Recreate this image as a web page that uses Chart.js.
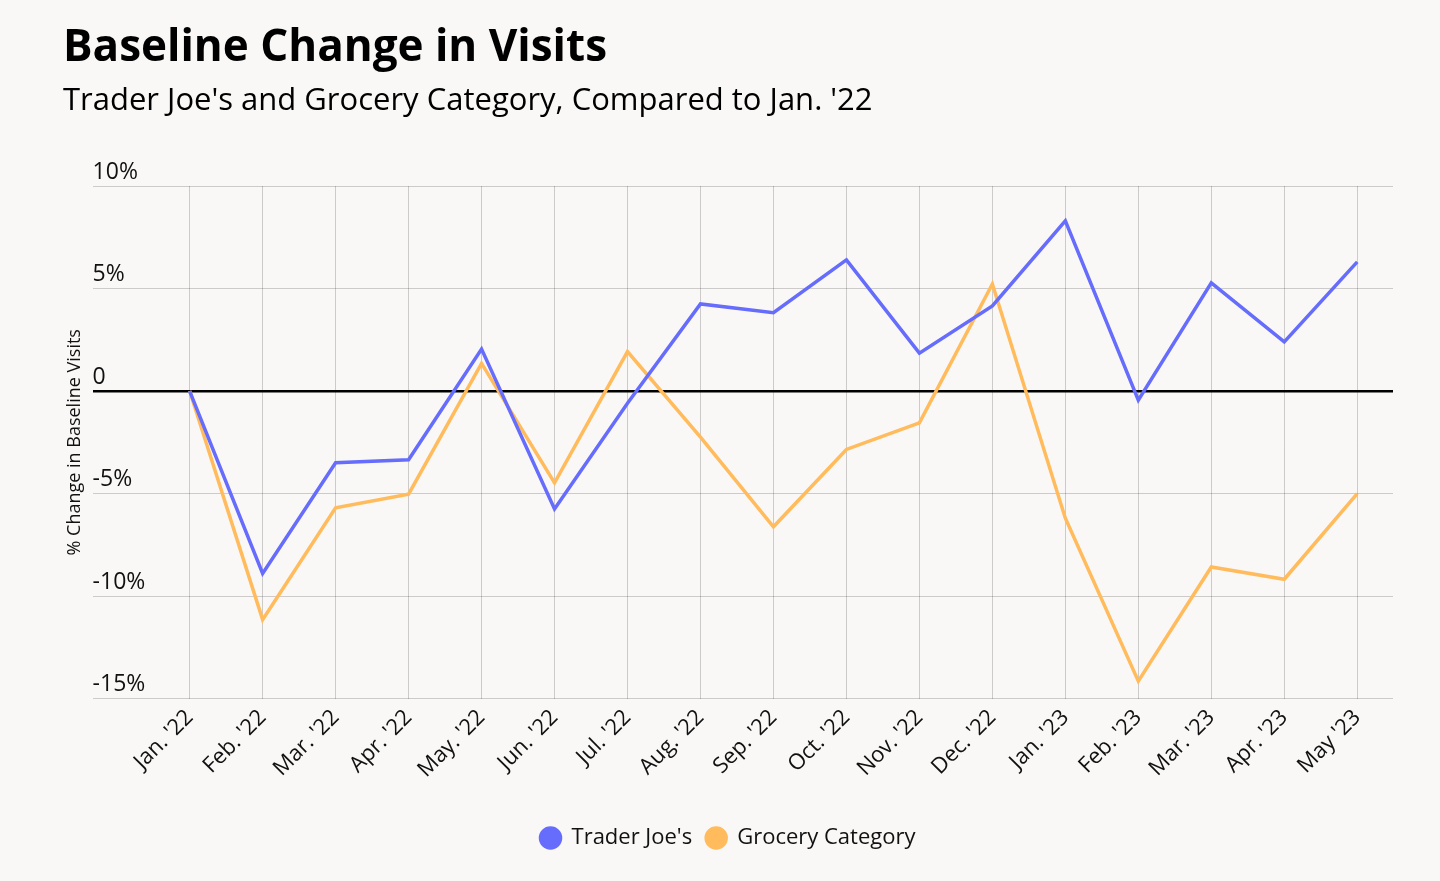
<!DOCTYPE html>
<html>
<head>
<meta charset="utf-8">
<script src="https://cdn.jsdelivr.net/npm/chart.js@4"></script>
<style>
  html, body { margin: 0; padding: 0; background: #f9f8f6; }
  #wrap { width: 1440px; height: 881px; }
</style>
</head>
<body>
<div id="wrap"><canvas id="chart"></canvas></div>
<script>
// month labels along the x axis
const months = ["Jan. '22", "Feb. '22", "Mar. '22", "Apr. '22", "May. '22", "Jun. '22", "Jul. '22",
  "Aug. '22", "Sep. '22", "Oct. '22", "Nov. '22", "Dec. '22", "Jan. '23", "Feb. '23", "Mar. '23",
  "Apr. '23", "May '23"];

// % change vs Jan. '22
const traderJoes = [0, -8.9, -3.5, -3.35, 2.05, -5.75, -0.6, 4.25, 3.82, 6.4, 1.85, 4.15, 8.3, -0.45, 5.28, 2.4, 6.3];
const grocery = [0, -11.15, -5.7, -5.03, 1.35, -4.48, 1.92, -2.25, -6.62, -2.85, -1.55, 5.22, -6.2, -14.15, -8.58, -9.18, -5.0];

const yTicks = [-15, -10, -5, 0, 5, 10];

const blue = '#666cfb';
const orange = '#ffbb5c';
const font = "'Open Sans', 'Noto Sans', sans-serif";

const toPoints = arr => arr.map((v, i) => ({ x: i, y: v }));

new Chart(document.getElementById('chart'), {
  type: 'line',
  data: {
    datasets: [
      { label: "Trader Joe's", data: toPoints(traderJoes), borderColor: blue, backgroundColor: blue,
        borderWidth: 3.5, pointRadius: 0, tension: 0 },
      { label: 'Grocery Category', data: toPoints(grocery), borderColor: orange, backgroundColor: orange,
        borderWidth: 3.5, pointRadius: 0, tension: 0 }
    ]
  },
  options: {
    responsive: true,
    maintainAspectRatio: false,
    animation: false,
    layout: { padding: { left: 63, right: 47, top: 22, bottom: 22 } },
    scales: {
      x: {
        type: 'linear',
        min: -1.33,
        max: 16.49,
        afterBuildTicks: axis => { axis.ticks = months.map((_, i) => ({ value: i })); },
        afterFit: axis => { axis.height += 24; },
        border: { display: false },
        grid: { color: 'rgba(0,0,0,0.18)', lineWidth: 1, drawTicks: false },
        ticks: {
          autoSkip: false,
          minRotation: 45,
          maxRotation: 45,
          padding: 6,
          color: '#111',
          font: { family: font, size: 22, weight: 500 },
          callback: v => months[v]
        }
      },
      y: {
        min: -15,
        max: 10,
        afterBuildTicks: axis => { axis.ticks = yTicks.map(v => ({ value: v })); },
        border: { display: false },
        grid: {
          drawTicks: false,
          color: c => c.tick && c.tick.value === 0 ? '#000' : 'rgba(0,0,0,0.18)',
          lineWidth: c => c.tick && c.tick.value === 0 ? 2.5 : 1
        },
        ticks: {
          mirror: true,
          padding: 0,
          labelOffset: -14,
          color: '#111',
          font: { family: font, size: 23, weight: 500 },
          callback: v => v === 0 ? '0' : v + '%'
        },
        title: {
          display: true,
          text: '% Change in Baseline Visits',
          color: '#111',
          font: { family: font, size: 18, weight: 500 },
          padding: { top: 1, bottom: 7 }
        }
      }
    },
    plugins: {
      title: {
        display: true,
        align: 'start',
        text: 'Baseline Change in Visits',
        color: '#000',
        font: { family: font, size: 44, weight: 'bold' },
        padding: { top: 0, bottom: 8 }
      },
      subtitle: {
        display: true,
        align: 'start',
        text: "Trader Joe's and Grocery Category, Compared to Jan. '22",
        color: '#000',
        font: { family: font, size: 31, weight: 500 },
        padding: { top: 0, bottom: 66 }
      },
      legend: {
        position: 'bottom',
        labels: {
          usePointStyle: true,
          pointStyle: 'circle',
          pointStyleWidth: 20,
          boxHeight: 14,
          padding: 14,
          color: '#111',
          font: { family: font, size: 22, weight: 500 }
        }
      },
      tooltip: { enabled: false }
    }
  }
});
</script>
</body>
</html>
